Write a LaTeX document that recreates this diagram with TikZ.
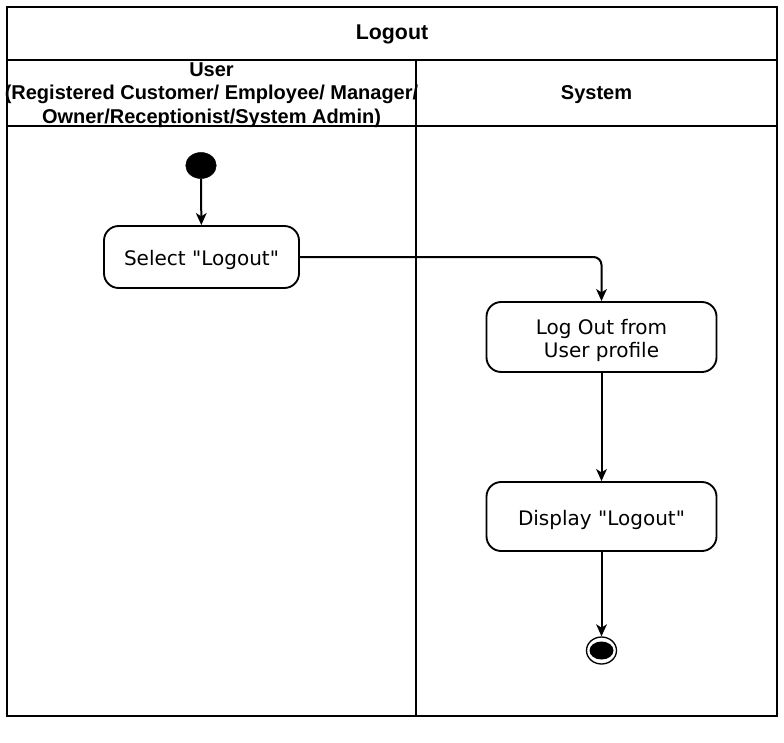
\documentclass[tikz,border=0pt]{standalone}
\usepackage{fontspec}
\setmainfont{DejaVu Sans}[Ligatures=TeXOff]
\newfontfamily\hdrfont{Liberation Sans}
\usetikzlibrary{arrows.meta,shapes.geometric}
\begin{document}
\begin{tikzpicture}[x=0.75pt,y=-0.75pt,
  frame/.style={line width=2pt},
  action/.style={draw,line width=1.4pt,rounded corners=11pt,inner sep=0pt},
  atext/.style={align=center,inner sep=0pt,yshift=-2.6pt,font=\fontsize{15pt}{17.3pt}\selectfont},
  hdr/.style={align=center,inner sep=0pt,font=\hdrfont\bfseries\fontsize{15pt}{17.6pt}\selectfont},
  flow/.style={line width=1.5pt,-{Stealth[length=9pt,width=8pt,inset=2.5pt]}}]
\useasboundingbox (0,0) rectangle (784,742);
% frame
\draw[frame] (7,7) rectangle (777,716);
\draw[frame] (7,60) -- (777,60);
\draw[frame] (7,126) -- (777,126);
\draw[frame] (416,60) -- (416,716);
% headers
\node[hdr,font=\hdrfont\bfseries\fontsize{16pt}{18pt}\selectfont] (title) at (392,34.5) {Logout};
\node[hdr] (userh) at (211.5,95) {User\\(Registered Customer/ Employee/ Manager/\\Owner/Receptionist/System Admin)};
\node[hdr] (sysh) at (596.5,95) {System};
% nodes
\node[draw,fill=black,ellipse,minimum width=30.5*0.75pt,minimum height=26*0.75pt,inner sep=0pt] (start) at (201,165.5) {};
\node[action,minimum width=195*0.75pt,minimum height=62*0.75pt,
  label={[atext]center:Select "Logout"}] (sel) at (201.5,257) {};
\node[action,minimum width=230*0.75pt,minimum height=70*0.75pt,
  label={[atext]center:Log Out from\\User profile}] (lo) at (601.5,337) {};
\node[action,minimum width=230*0.75pt,minimum height=69*0.75pt,
  label={[atext]center:Display "Logout"}] (disp) at (601.5,516.5) {};
\node[draw,ellipse,line width=1pt,minimum width=30*0.75pt,minimum height=27*0.75pt,inner sep=0pt] (end) at (601.5,650.5) {};
\node[fill=black,ellipse,minimum width=24*0.75pt,minimum height=18*0.75pt,inner sep=0pt] (endin) at (601.5,650.5) {};
% flows
\draw[flow] (start) -- (sel);
\draw[flow,rounded corners=6pt] (sel.east) -| (lo.north);
\draw[flow] (lo) -- (disp);
\draw[flow] (disp) -- (end);
\end{tikzpicture}
\end{document}
